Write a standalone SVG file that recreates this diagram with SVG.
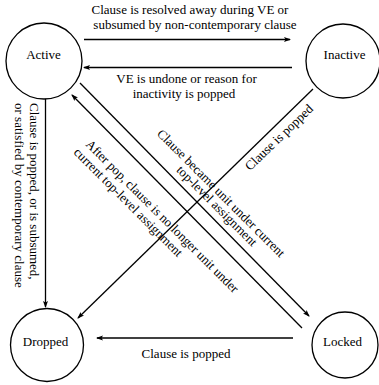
<svg xmlns="http://www.w3.org/2000/svg" width="379" height="385" viewBox="0 0 379 385">
<style>
.node{fill:#fff;stroke:#000;stroke-width:1.3}
.t{font-family:"Liberation Serif","Times New Roman","DejaVu Serif",serif;font-size:13px;fill:#000}
.c{text-anchor:middle}
.e{stroke:#000;stroke-width:1.3;fill:none;marker-end:url(#ah)}
</style>
<defs>
<marker id="ah" markerUnits="userSpaceOnUse" markerWidth="9" markerHeight="6" refX="6" refY="2.5" orient="auto" overflow="visible">
<path d="M0,0 L7,2.5 L0,5 L1.5,2.5 z" fill="#000"/>
</marker>
</defs>
<rect width="379" height="385" fill="#fff"/>
<g id="connectors">
<line class="e" x1="84" y1="39.5" x2="290" y2="39.5"/>
<line class="e" x1="292" y1="67.5" x2="84" y2="67.5"/>
<line class="e" x1="45.5" y1="97" x2="45.5" y2="307"/>
<line class="e" x1="80" y1="83" x2="309" y2="316"/>
<line class="e" x1="302" y1="328" x2="72" y2="95"/>
<line class="e" x1="313" y1="89" x2="78" y2="318"/>
<line class="e" x1="293" y1="338" x2="97" y2="338"/>
<g class="t">
<text class="c" x="190" y="13.5">Clause is resolved away during VE or</text>
<text class="c" x="195" y="28.5">subsumed by non-contemporary clause</text>
<text class="c" x="186.5" y="83">VE is undone or reason for</text>
<text class="c" x="184" y="97.5">inactivity is popped</text>
<text transform="translate(29.5,103) rotate(90)">Clause is popped, or is subsumed,</text>
<text transform="translate(15,103) rotate(90)">or satisfied by contemporary clause</text>
<text transform="translate(85,145) rotate(45)">After pop, clause is no longer unit under</text>
<text transform="translate(73,153) rotate(45)">current top-level assignment</text>
<text class="c" transform="translate(218.1,196.2) rotate(45)">Clause became unit under current</text>
<text class="c" transform="translate(213.9,208.9) rotate(45)">top-level assignment</text>
<text class="c" transform="translate(282,140.5) rotate(-44)">Clause is popped</text>
<text class="c" x="186" y="358">Clause is popped</text>
</g>
</g>
<g id="active"><circle class="node" cx="44" cy="61" r="38"/><text class="t c" x="43.5" y="58.5">Active</text></g>
<g id="inactive"><circle class="node" cx="343" cy="61" r="37"/><text class="t c" x="344.5" y="59">Inactive</text></g>
<g id="dropped"><circle class="node" cx="47" cy="345" r="36.5"/><text class="t c" x="45.5" y="346">Dropped</text></g>
<g id="locked"><circle class="node" cx="345" cy="345" r="33"/><text class="t c" x="342.5" y="346">Locked</text></g>
</svg>
